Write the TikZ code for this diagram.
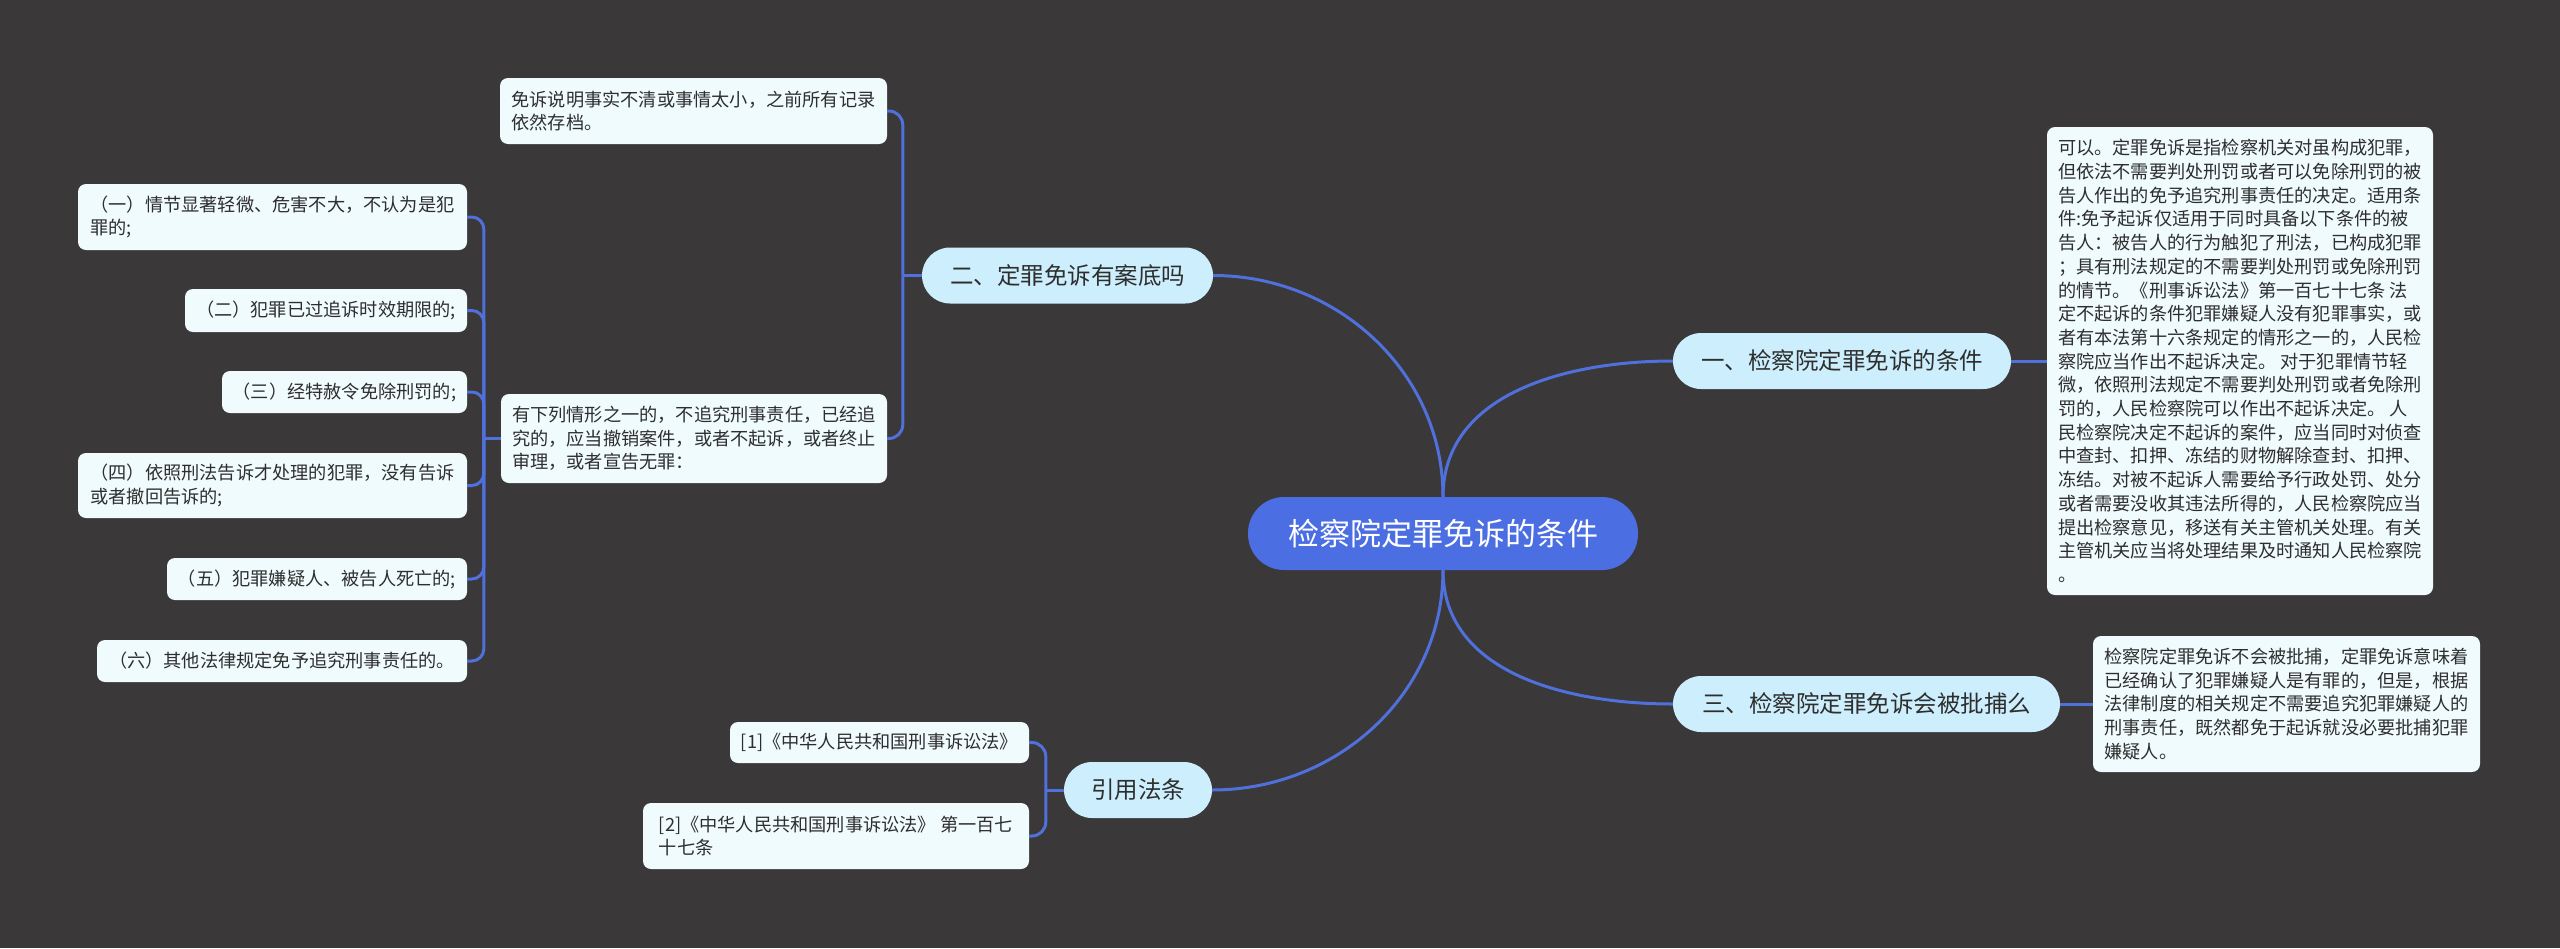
\documentclass[tikz,border=0pt]{standalone}
\usepackage{fontspec}
\newfontfamily\cjk{Noto Sans CJK SC}
\usetikzlibrary{calc}
\definecolor{bgc}{HTML}{3A3839}
\definecolor{linec}{HTML}{5070DC}
\definecolor{rootc}{HTML}{4C6EE3}
\definecolor{branchc}{HTML}{CDEFFD}
\definecolor{leafc}{HTML}{F0FBFE}
\definecolor{txt}{HTML}{2E2E2E}
\tikzset{
  conn/.style={draw=linec, line width=3pt},
  rootnode/.style={fill=rootc, rounded corners=36pt, text=white, font=\cjk\fontsize{31}{36}\selectfont, inner sep=0pt},
  branch/.style={fill=branchc, rounded corners=28pt, text=txt, font=\cjk\fontsize{23.5}{28}\selectfont, inner sep=0pt, minimum height=56pt},
  leaf/.style={fill=leafc, rounded corners=8pt, text=txt, font=\cjk\fontsize{18.2}{23.7}\selectfont, align=left, inner sep=0pt},
}
\begin{document}
\begin{tikzpicture}[x=1pt,y=-1pt]
\useasboundingbox (0,0) rectangle (2560,948);
\fill[bgc] (0,0) rectangle (2560,948);

% root and branches
\node[rootnode, minimum width=390pt, minimum height=73pt] (root) at (1443,533.5) {检察院定罪免诉的条件};
\node[branch, minimum width=338pt] (b1) at (1842,361) {一、检察院定罪免诉的条件};
\node[branch, minimum width=291pt] (b2) at (1067.5,275.5) {二、定罪免诉有案底吗};
\node[branch, minimum width=387pt] (b3) at (1866.5,704) {三、检察院定罪免诉会被批捕么};
\node[branch, minimum width=148pt] (b4) at (1138,790) {引用法条};

% right leaves
\node[leaf, minimum width=386pt, minimum height=468pt] (t1) at (2240,361) {可以。定罪免诉是指检察机关对虽构成犯罪，\\但依法不需要判处刑罚或者可以免除刑罚的被\\告人作出的免予追究刑事责任的决定。适用条\\件:免予起诉仅适用于同时具备以下条件的被\\告人：被告人的行为触犯了刑法，已构成犯罪\\；具有刑法规定的不需要判处刑罚或免除刑罚\\的情节。《刑事诉讼法》第一百七十七条 法\\定不起诉的条件犯罪嫌疑人没有犯罪事实，或\\者有本法第十六条规定的情形之一的，人民检\\察院应当作出不起诉决定。 对于犯罪情节轻\\微，依照刑法规定不需要判处刑罚或者免除刑\\罚的，人民检察院可以作出不起诉决定。 人\\民检察院决定不起诉的案件，应当同时对侦查\\中查封、扣押、冻结的财物解除查封、扣押、\\冻结。对被不起诉人需要给予行政处罚、处分\\或者需要没收其违法所得的，人民检察院应当\\提出检察意见，移送有关主管机关处理。有关\\主管机关应当将处理结果及时通知人民检察院\\。};
\node[leaf, minimum width=387pt, minimum height=136pt] (t2) at (2286.5,704) {检察院定罪免诉不会被批捕，定罪免诉意味着\\已经确认了犯罪嫌疑人是有罪的，但是，根据\\法律制度的相关规定不需要追究犯罪嫌疑人的\\刑事责任，既然都免于起诉就没必要批捕犯罪\\嫌疑人。};

% left leaves of branch 2
\node[leaf, minimum width=387pt, minimum height=66pt] (p1) at (693.5,111) {免诉说明事实不清或事情太小，之前所有记录\\依然存档。};
\node[leaf, minimum width=386pt, minimum height=89pt] (p2) at (694,438.5) {有下列情形之一的，不追究刑事责任，已经追\\究的，应当撤销案件，或者不起诉，或者终止\\审理，或者宣告无罪：};

\node[leaf, minimum width=389pt, minimum height=66pt] (c1) at (272.5,217) {（一）情节显著轻微、危害不大，不认为是犯\\罪的;};
\node[leaf, minimum width=282pt, minimum height=43pt] (c2) at (326,310.5) {（二）犯罪已过追诉时效期限的;};
\node[leaf, minimum width=245pt, minimum height=42pt] (c3) at (344.5,392) {（三）经特赦令免除刑罚的;};
\node[leaf, minimum width=389pt, minimum height=65pt] (c4) at (272.5,485.5) {（四）依照刑法告诉才处理的犯罪，没有告诉\\或者撤回告诉的;};
\node[leaf, minimum width=300pt, minimum height=42pt] (c5) at (317,579) {（五）犯罪嫌疑人、被告人死亡的;};
\node[leaf, minimum width=370pt, minimum height=42pt] (c6) at (282,661) {（六）其他法律规定免予追究刑事责任的。};

% leaves of 引用法条
\node[leaf, minimum width=299pt, minimum height=41pt] (r1) at (879.5,742.5) {[1]《中华人民共和国刑事诉讼法》};
\node[leaf, minimum width=386pt, minimum height=66pt] (r2) at (836,836) {[2]《中华人民共和国刑事诉讼法》 第一百七\\十七条};

% connectors from root
\draw[conn] (root.north) to[out=90,in=180] (b1.west);
\draw[conn] (root.north) to[out=90,in=0] (b2.east);
\draw[conn] (root.south) to[out=-90,in=180] (b3.west);
\draw[conn] (root.south) to[out=-90,in=0] (b4.east);

% right side straight connectors
\draw[conn] (b1.east) -- (t1.west);
\draw[conn] (b3.east) -- (t2.west);

% bracket connectors
\coordinate (k2) at ($(b2.west)+(-19pt,0)$);
\draw[conn] (b2.west) -- (k2);
\draw[conn, rounded corners=14pt] (k2) |- (p1.east);
\draw[conn, rounded corners=14pt] (k2) |- (p2.east);

\coordinate (kp) at ($(p2.west)+(-17pt,0)$);
\draw[conn] (p2.west) -- (kp);
\foreach \c in {c1,c2,c3,c4,c5,c6}{
  \draw[conn, rounded corners=12pt] (kp) |- (\c.east);
}

\coordinate (k4) at ($(b4.west)+(-18pt,0)$);
\draw[conn] (b4.west) -- (k4);
\draw[conn, rounded corners=14pt] (k4) |- (r1.east);
\draw[conn, rounded corners=14pt] (k4) |- (r2.east);
\end{tikzpicture}
\end{document}
